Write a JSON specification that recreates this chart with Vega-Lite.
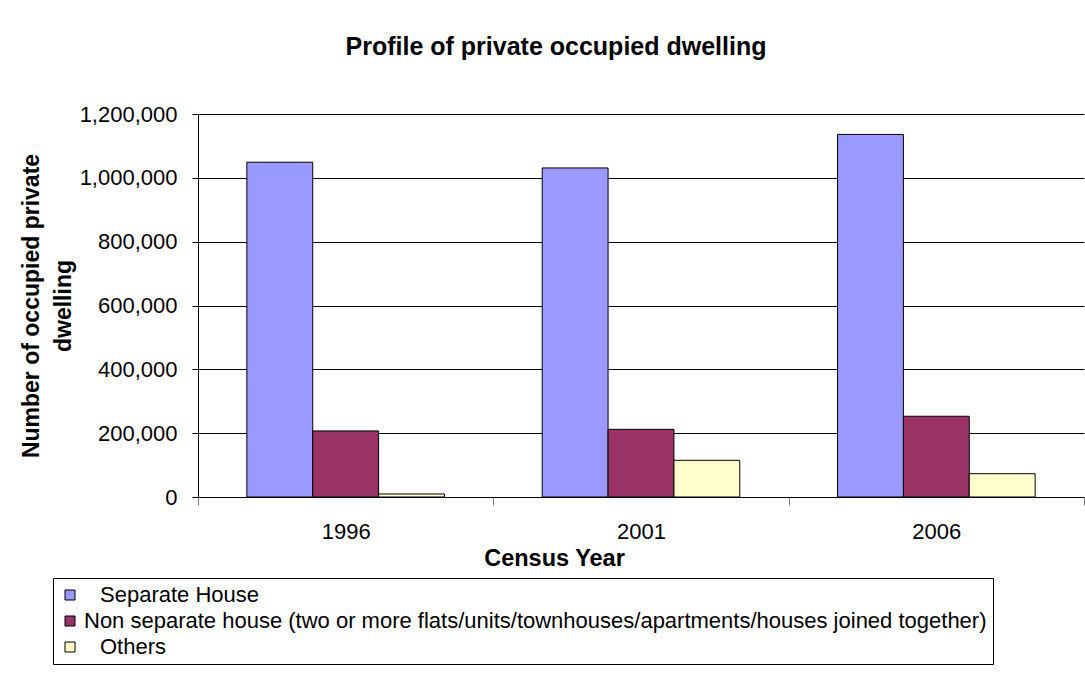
{
  "$schema": "https://vega.github.io/schema/vega-lite/v6.json",
  "width": 886,
  "height": 383,
  "padding": {"left": 20, "top": 35, "right": 0, "bottom": 0},
  "background": "white",
  "title": {
    "text": "Profile of private occupied dwelling",
    "font": "Liberation Sans",
    "fontSize": 25,
    "fontWeight": "bold",
    "color": "black",
    "anchor": "middle",
    "dx": -85,
    "offset": 43
  },
  "data": {
    "values": [
      {"year": "1996", "type": "Separate House", "value": 1049000},
      {"year": "1996", "type": "Non separate house (two or more flats/units/townhouses/apartments/houses joined together)", "value": 207000},
      {"year": "1996", "type": "Others", "value": 9400},
      {"year": "2001", "type": "Separate House", "value": 1031000},
      {"year": "2001", "type": "Non separate house (two or more flats/units/townhouses/apartments/houses joined together)", "value": 212000},
      {"year": "2001", "type": "Others", "value": 115000},
      {"year": "2006", "type": "Separate House", "value": 1136000},
      {"year": "2006", "type": "Non separate house (two or more flats/units/townhouses/apartments/houses joined together)", "value": 253000},
      {"year": "2006", "type": "Others", "value": 73000}
    ]
  },
  "mark": {"type": "bar", "stroke": "black", "strokeWidth": 1},
  "encoding": {
    "x": {
      "field": "year",
      "type": "nominal",
      "scale": {"paddingInner": 0, "paddingOuter": 0},
      "axis": {
        "title": "Census Year",
        "titleFont": "Liberation Sans",
        "titleFontSize": 23.5,
        "titleFontWeight": "bold",
        "titleColor": "black",
        "titlePadding": 4,
        "titleX": 356,
        "titleAlign": "center",
        "labelFont": "Liberation Sans",
        "labelFontSize": 22,
        "labelColor": "black",
        "labelAngle": 0,
        "labelPadding": 16,
        "tickBand": "extent",
        "tickSize": 8,
        "tickColor": "#808080",
        "domainColor": "black",
        "grid": false
      }
    },
    "xOffset": {
      "field": "type",
      "type": "nominal",
      "sort": ["Separate House", "Non separate house (two or more flats/units/townhouses/apartments/houses joined together)", "Others"],
      "scale": {"paddingInner": 0, "paddingOuter": 0.742}
    },
    "y": {
      "field": "value",
      "type": "quantitative",
      "scale": {"domain": [0, 1200000], "nice": false},
      "axis": {
        "title": ["Number of occupied private", "dwelling"],
        "titleFont": "Liberation Sans",
        "titleFontSize": 23,
        "titleFontWeight": "bold",
        "titleColor": "black",
        "titlePadding": 4,
        "titleLineHeight": 32,
        "values": [0, 200000, 400000, 600000, 800000, 1000000, 1200000],
        "format": ",d",
        "labelFont": "Liberation Sans",
        "labelFontSize": 22,
        "labelColor": "black",
        "labelPadding": 15,
        "tickSize": 6,
        "tickColor": "black",
        "domainColor": "black",
        "grid": true,
        "gridColor": "black",
        "gridOpacity": 1
      }
    },
    "color": {
      "field": "type",
      "type": "nominal",
      "sort": ["Separate House", "Non separate house (two or more flats/units/townhouses/apartments/houses joined together)", "Others"],
      "scale": {
        "domain": ["Separate House", "Non separate house (two or more flats/units/townhouses/apartments/houses joined together)", "Others"],
        "range": ["#9999FF", "#993366", "#FFFFCC"]
      },
      "legend": {
        "title": null,
        "orient": "none",
        "legendX": -145,
        "legendY": 464,
        "direction": "vertical",
        "symbolType": "square",
        "symbolSize": 100,
        "symbolStrokeColor": "black",
        "symbolStrokeWidth": 1,
        "labelFont": "Liberation Sans",
        "labelFontSize": 22,
        "labelColor": "black",
        "labelLimit": 1000,
        "labelOffset": 3,
        "encode": {
          "labels": {
            "update": {
              "dx": {"signal": "datum.index == 1 ? 0 : 16"}
            }
          }
        },
        "rowPadding": 4,
        "padding": 6,
        "strokeColor": "black",
        "fillColor": "white"
      }
    }
  },
  "config": {
    "view": {"stroke": null}
  }
}
